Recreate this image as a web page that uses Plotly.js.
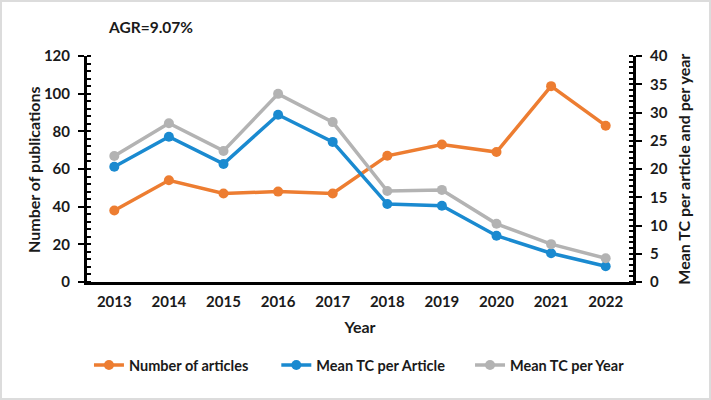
<!DOCTYPE html>
<html>
<head>
<meta charset="utf-8">
<script src="https://cdn.plot.ly/plotly-3.0.1.min.js"></script>
<style>
  html, body { margin: 0; padding: 0; background: #fff; }
  #chart { width: 707px; height: 396px; border: 2px solid #dcdcdc; }
</style>
</head>
<body>
<div id="chart"></div>
<script>
// values
var years = ["2013", "2014", "2015", "2016", "2017", "2018", "2019", "2020", "2021", "2022"];
var articles = [38, 54, 47, 48, 47, 67, 73, 69, 104, 83];
var tcPerArticle = [20.4, 25.7, 20.9, 29.6, 24.8, 13.8, 13.5, 8.2, 5.1, 2.8];
var tcPerYear = [22.3, 28.1, 23.2, 33.3, 28.3, 16.1, 16.3, 10.3, 6.7, 4.2];

var FONT = "Lato, 'Open Sans', sans-serif";
var TITLE_FONT = {family: FONT, size: 16, color: '#1a1a1a', weight: 'bold'};

function series(y, name, color, axis, leg) {
  return {
    x: years, y: y, name: name, yaxis: axis, legend: leg,
    type: 'scatter', mode: 'lines+markers',
    line: {color: color, width: 3.5},
    marker: {color: color, size: 10}
  };
}

// one legend per series so each entry sits where the reference has it
function legendAt(x) {
  return {
    orientation: 'h', xref: 'container', yref: 'container',
    x: x, xanchor: 'left', y: 0.083, yanchor: 'middle',
    font: {family: FONT, size: 14.5, color: '#1a1a1a', weight: 'bold'}
  };
}

var data = [
  series(articles, 'Number of articles', '#ED7D31', 'y', 'legend'),
  series(tcPerArticle, 'Mean TC per Article', '#1A8AD0', 'y2', 'legend2'),
  series(tcPerYear, 'Mean TC per Year', '#B3B3B3', 'y2', 'legend3')
];

var layout = {
  width: 707, height: 396,
  margin: {l: 85, r: 76, t: 54, b: 116},
  paper_bgcolor: '#fff', plot_bgcolor: '#fff',
  font: {family: FONT, size: 14, color: '#1a1a1a', weight: 'bold'},
  showlegend: true,
  legend: legendAt(0.123),
  legend2: legendAt(0.388),
  legend3: legendAt(0.662),
  xaxis: {
    type: 'category', range: [-0.5, 9.5],
    showline: true, linecolor: '#000', linewidth: 3,
    ticks: '', showgrid: false, zeroline: false,
    ticklabelstandoff: 4,
    tickfont: {family: FONT, size: 15, weight: 'bold'},
    title: {text: 'Year', standoff: 13, font: TITLE_FONT}
  },
  yaxis: {
    range: [0, 120], dtick: 20,
    showline: true, linecolor: '#000', linewidth: 3,
    ticks: 'outside', ticklen: 6, tickwidth: 2, tickcolor: '#000',
    minor: {dtick: 4, ticks: 'inside', ticklen: 4, tickwidth: 2, tickcolor: '#000'},
    showgrid: false, zeroline: false,
    ticklabelstandoff: 5,
    tickfont: {family: FONT, size: 15, weight: 'bold'}
  },
  yaxis2: {
    overlaying: 'y', side: 'right', range: [0, 40], dtick: 5,
    showline: true, linecolor: '#000', linewidth: 3,
    ticks: 'outside', ticklen: 6, tickwidth: 2, tickcolor: '#000',
    minor: {dtick: 1, ticks: 'inside', ticklen: 4, tickwidth: 2, tickcolor: '#000'},
    showgrid: false, zeroline: false,
    ticklabelstandoff: 5,
    tickfont: {family: FONT, size: 15, weight: 'bold'}
  },
  annotations: [{
    text: 'AGR=9.07%', xref: 'paper', yref: 'paper',
    x: 0.035, y: 1.13, xanchor: 'left', yanchor: 'middle', showarrow: false,
    font: {family: FONT, size: 15.5, color: '#1a1a1a', weight: 'bold'}
  }, {
    // axis titles placed as annotations so they sit where the reference has them
    text: 'Number of publications', xref: 'paper', yref: 'paper',
    x: -0.099, y: 0.5, xanchor: 'center', yanchor: 'middle', textangle: -90,
    showarrow: false, font: TITLE_FONT
  }, {
    text: 'Mean TC per article and per year', xref: 'paper', yref: 'paper',
    x: 1.091, y: 0.5, xanchor: 'center', yanchor: 'middle', textangle: -90,
    showarrow: false, font: TITLE_FONT
  }]
};

Plotly.newPlot('chart', data, layout, {displayModeBar: false});
</script>
</body>
</html>
